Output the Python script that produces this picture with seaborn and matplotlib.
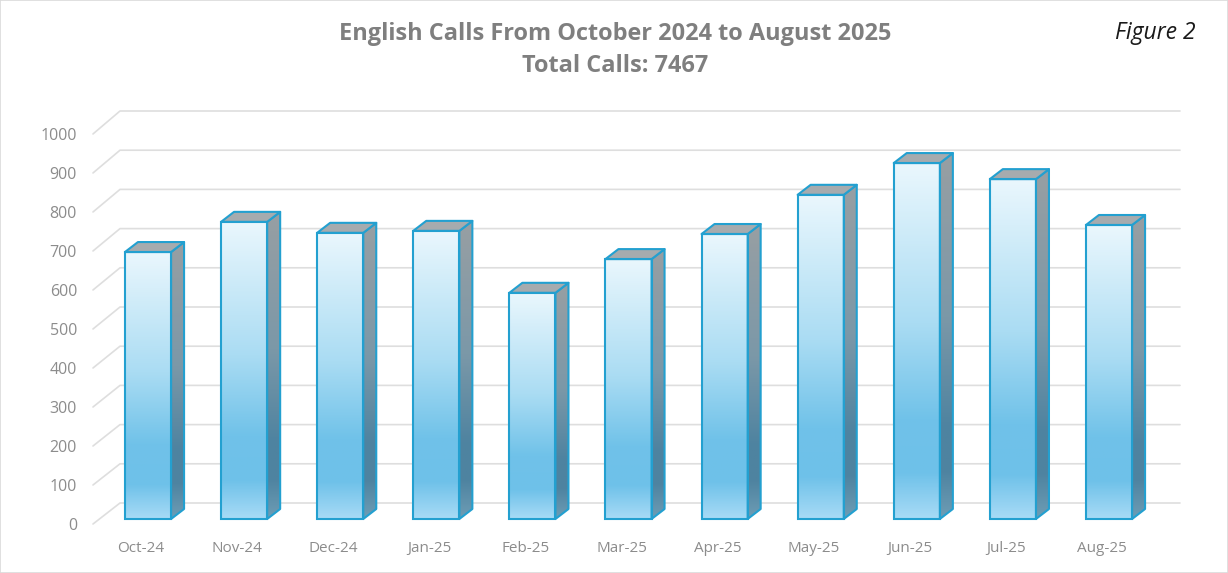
import numpy as np
import pandas as pd
import matplotlib
matplotlib.use("Agg")
import matplotlib.pyplot as plt
from matplotlib.colors import LinearSegmentedColormap
from matplotlib.patches import Polygon, Rectangle
from matplotlib.transforms import ScaledTranslation
import seaborn as sns

# data
months = ["Oct-24", "Nov-24", "Dec-24", "Jan-25", "Feb-25", "Mar-25",
          "Apr-25", "May-25", "Jun-25", "Jul-25", "Aug-25"]
calls = [681, 758, 730, 735, 577, 663, 727, 827, 908, 867, 750]
y_ticks = [0, 100, 200, 300, 400, 500, 600, 700, 800, 900, 1000]
title_lines = ["English Calls From October 2024 to August 2025", "Total Calls: 7467"]
figure_label = "Figure 2"

W, H = 1228, 573
EDGE = "#23A0D0"
sns.set_theme(style="white")
plt.rcParams["font.family"] = ["Open Sans", "DejaVu Sans"]

df = pd.DataFrame({"month": months, "calls": calls})

fig = plt.figure(figsize=(W / 100, H / 100), dpi=100)
# axes box in pixels: left 93, right 1180, top 90, bottom 524
ax = fig.add_axes([93 / W, 1 - 524 / H, (1180 - 93) / W, (524 - 90) / H])

sns.barplot(data=df, x="month", y="calls", ax=ax, width=0.48, fill=True,
            facecolor="none", edgecolor=EDGE, linewidth=1.5, zorder=5)

PX_X = 96.1   # pixels per category
PX_Y = 0.392  # pixels per call
xlim = ((93 - 148) / PX_X, (1180 - 148) / PX_X)
ylim = (-5 / PX_Y, (519 - 90) / PX_Y)
depth_x = 13 / PX_X
depth_y = 10 / PX_Y

# walls: lines run from the front corner to the back then across
front_x = xlim[0]
back_x = (120 - 148) / PX_X
front_y = [ylim[0] + v * 0.995 for v in y_ticks]
back_y = [(16 / PX_Y) + v for v in y_ticks]
for fy, by in zip(front_y, back_y):
    ax.plot([front_x, back_x, xlim[1]], [fy, by, by], color="#DEDEDE", lw=1.2,
            zorder=1, clip_on=False, solid_joinstyle="round")

front_cmap = LinearSegmentedColormap.from_list(
    "front", [(0, "#EAF7FD"), (0.45, "#AADCF3"), (0.72, "#70C2E9"), (0.87, "#6EC1E9"), (1, "#A8DBF6")])
side_cmap = LinearSegmentedColormap.from_list(
    "side", [(0, "#989FA3"), (0.45, "#7B98A8"), (0.75, "#4E83A0"), (0.87, "#4E83A0"), (1, "#6E9DB5")])
grad = np.linspace(0, 1, 256).reshape(-1, 1)

for bar in ax.patches:
    x0, w, h = bar.get_x(), bar.get_width(), bar.get_height()
    x1 = x0 + w
    ax.imshow(grad, cmap=front_cmap, extent=(x0, x1, 0, h), aspect="auto", zorder=3)

    side = Polygon([(x1, 0), (x1 + depth_x, depth_y), (x1 + depth_x, h + depth_y), (x1, h)],
                   closed=True, facecolor="none", edgecolor=EDGE, lw=1.5, zorder=4,
                   joinstyle="round")
    ax.add_patch(side)
    im = ax.imshow(grad, cmap=side_cmap, extent=(x1, x1 + depth_x, 0, h + depth_y),
                   aspect="auto", zorder=3)
    im.set_clip_path(side)

    top = Polygon([(x0, h), (x0 + depth_x, h + depth_y), (x1 + depth_x, h + depth_y), (x1, h)],
                  closed=True, facecolor="#A6ABAE", edgecolor=EDGE, lw=1.5, zorder=4,
                  joinstyle="round")
    ax.add_patch(top)

ax.set_xlim(*xlim)
ax.set_ylim(*ylim)
ax.set_xlabel("")
ax.set_ylabel("")
sns.despine(ax=ax, left=True, bottom=True, top=True, right=True)
ax.patch.set_alpha(0)

ax.set_yticks(front_y, [str(v) for v in y_ticks])
ax.tick_params(axis="y", length=0, pad=11.5, labelsize=11.5, labelcolor="#8C8C8C")
ax.tick_params(axis="x", length=0, pad=12, labelsize=11, labelcolor="#8C8C8C")
shift = ScaledTranslation(-7 / 100, 0, fig.dpi_scale_trans)
for lab in ax.get_xticklabels():
    lab.set_transform(lab.get_transform() + shift)

fig.text(615 / W, 1 - 33.5 / H, title_lines[0], ha="center", va="center",
         fontsize=16.9, fontweight="bold", color="#7F7F7F")
fig.text(615 / W, 1 - 66.5 / H, title_lines[1], ha="center", va="center",
         fontsize=16.9, fontweight="bold", color="#7F7F7F")
fig.text(1155 / W, 1 - 33 / H, figure_label, ha="center", va="center",
         fontsize=16.5, fontstyle="italic", color="#1A1A1A")

fig.add_artist(Rectangle((0, 0), 1, 1, transform=fig.transFigure, facecolor="none",
                         edgecolor="#DADADA", lw=1.2))

fig.savefig("out.png", dpi=100)
